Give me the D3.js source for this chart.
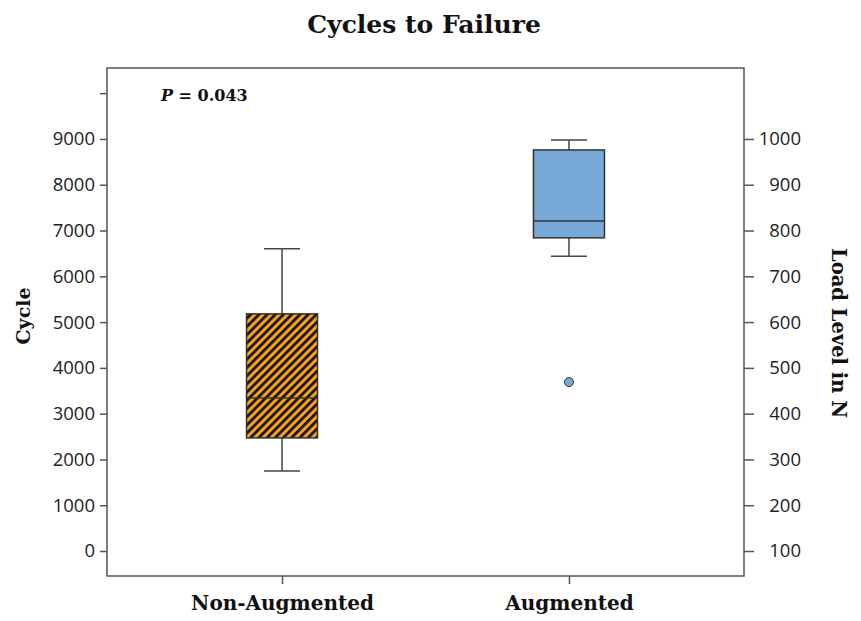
<!DOCTYPE html>
<html>
<head>
<meta charset="utf-8">
<script src="https://cdn.jsdelivr.net/npm/d3@7"></script>
<style>
  body { margin: 0; background: #fff; }
  .tick text { font-family: "Open Sans", sans-serif; font-size: 18.5px; fill: #222; }
  .serif { font-family: "DejaVu Serif", serif; font-weight: bold; fill: #111; }
</style>
</head>
<body>
<div id="wrapper"></div>
<script>
const categories = ["Non-Augmented", "Augmented"];
const whiskerLow = [1750, 6440];
const q1Values = [2470, 6840];
const medianValues = [3340, 7210];
const q3Values = [5180, 8760];
const whiskerHigh = [6600, 8980];
const outliers = [[], [3690]];
const cycleTicks = [0, 1000, 2000, 3000, 4000, 5000, 6000, 7000, 8000, 9000, 10000];
const loadTicks = [100, 200, 300, 400, 500, 600, 700, 800, 900, 1000];
const fills = ["#F7A21B", "#78A8D8"];

const dimensions = {
  width: 861,
  height: 621,
  margin: { top: 68, right: 117, bottom: 45, left: 107 },
};
dimensions.boundedWidth = dimensions.width - dimensions.margin.left - dimensions.margin.right;
dimensions.boundedHeight = dimensions.height - dimensions.margin.top - dimensions.margin.bottom;

const wrapper = d3.select("#wrapper")
  .append("svg")
  .attr("width", dimensions.width)
  .attr("height", dimensions.height);

const defs = wrapper.append("defs");
const hatch = defs.append("pattern")
  .attr("id", "hatch")
  .attr("patternUnits", "userSpaceOnUse")
  .attr("width", 5.8)
  .attr("height", 10)
  .attr("patternTransform", "rotate(45)");
hatch.append("rect").attr("width", 5.8).attr("height", 10).attr("fill", fills[0]);
hatch.append("rect").attr("width", 2.7).attr("height", 10).attr("fill", "#111");

const bounds = wrapper.append("g")
  .attr("transform", `translate(${dimensions.margin.left},${dimensions.margin.top})`);

const yScale = d3.scaleLinear()
  .domain([-546, 10550])
  .range([dimensions.boundedHeight, 0]);

const yRightScale = d3.scaleLinear()
  .domain(yScale.domain().map(d => d / 10 + 100))
  .range([dimensions.boundedHeight, 0]);

const xScale = d3.scalePoint()
  .domain(categories)
  .range([0, dimensions.boundedWidth])
  .padding(0.61);

const boxWidth = 71;
const capWidth = 36;

// frame
bounds.append("rect")
  .attr("width", dimensions.boundedWidth)
  .attr("height", dimensions.boundedHeight)
  .attr("fill", "none")
  .attr("stroke", "#555")
  .attr("stroke-width", 1.5);

// axes
const yAxis = bounds.append("g")
  .call(d3.axisLeft(yScale).tickValues(cycleTicks).tickSize(7).tickPadding(5)
    .tickFormat(d => d === 10000 ? "" : d));
yAxis.select(".domain").remove();
yAxis.selectAll(".tick line").attr("stroke", "#555").attr("stroke-width", 1.5);

const yRightAxis = bounds.append("g")
  .attr("transform", `translate(${dimensions.boundedWidth},0)`)
  .call(d3.axisRight(yRightScale).tickValues(loadTicks).tickSize(10).tickFormat(d3.format("d")));
yRightAxis.select(".domain").remove();
yRightAxis.selectAll(".tick line").attr("stroke", "#555").attr("stroke-width", 1.5);
yRightAxis.selectAll(".tick text").attr("text-anchor", "end").attr("x", 57);

const xAxis = bounds.append("g")
  .attr("transform", `translate(0,${dimensions.boundedHeight})`)
  .call(d3.axisBottom(xScale).tickSize(8).tickPadding(12));
xAxis.select(".domain").remove();
xAxis.selectAll(".tick line").attr("stroke", "#555").attr("stroke-width", 1.5);
xAxis.selectAll(".tick text")
  .style("font-family", "'DejaVu Serif', serif")
  .style("font-size", "20px")
  .style("font-weight", "bold")
  .style("fill", "#111");

// boxes
const boxes = bounds.selectAll(".box")
  .data(categories)
  .join("g")
  .attr("class", "box")
  .attr("transform", d => `translate(${xScale(d)},0)`);

boxes.append("line")
  .attr("y1", (d, i) => yScale(whiskerHigh[i]))
  .attr("y2", (d, i) => yScale(whiskerLow[i]))
  .attr("stroke", "#444")
  .attr("stroke-width", 1.5);

boxes.selectAll(".cap")
  .data((d, i) => [whiskerLow[i], whiskerHigh[i]])
  .join("line")
  .attr("class", "cap")
  .attr("x1", -capWidth / 2)
  .attr("x2", capWidth / 2)
  .attr("y1", d => yScale(d))
  .attr("y2", d => yScale(d))
  .attr("stroke", "#444")
  .attr("stroke-width", 1.5);

boxes.append("rect")
  .attr("x", -boxWidth / 2)
  .attr("width", boxWidth)
  .attr("y", (d, i) => yScale(q3Values[i]))
  .attr("height", (d, i) => yScale(q1Values[i]) - yScale(q3Values[i]))
  .attr("fill", (d, i) => i === 0 ? "url(#hatch)" : fills[i])
  .attr("stroke", "#333")
  .attr("stroke-width", 1.5);

boxes.append("line")
  .attr("x1", -boxWidth / 2)
  .attr("x2", boxWidth / 2)
  .attr("y1", (d, i) => yScale(medianValues[i]))
  .attr("y2", (d, i) => yScale(medianValues[i]))
  .attr("stroke", "#333")
  .attr("stroke-width", 1.5);

boxes.selectAll(".outlier")
  .data((d, i) => outliers[i].map(v => ({ v, i })))
  .join("circle")
  .attr("class", "outlier")
  .attr("r", 4.5)
  .attr("cy", d => yScale(d.v))
  .attr("fill", d => fills[d.i])
  .attr("stroke", "#333")
  .attr("stroke-width", 1);

// texts
wrapper.append("text")
  .attr("class", "serif")
  .attr("x", 424)
  .attr("y", 33)
  .attr("text-anchor", "middle")
  .style("font-size", "25px")
  .text("Cycles to Failure");

const pText = wrapper.append("text")
  .attr("class", "serif")
  .attr("x", 161)
  .attr("y", 101)
  .style("font-size", "16px");
pText.append("tspan").style("font-style", "italic").text("P");
pText.append("tspan").text(" = 0.043");

wrapper.append("text")
  .attr("class", "serif")
  .attr("transform", "translate(30,316) rotate(-90)")
  .attr("text-anchor", "middle")
  .style("font-size", "19px")
  .text("Cycle");

wrapper.append("text")
  .attr("class", "serif")
  .attr("transform", "translate(832,333) rotate(90)")
  .attr("text-anchor", "middle")
  .style("font-size", "19.5px")
  .text("Load Level in N");
</script>
</body>
</html>
